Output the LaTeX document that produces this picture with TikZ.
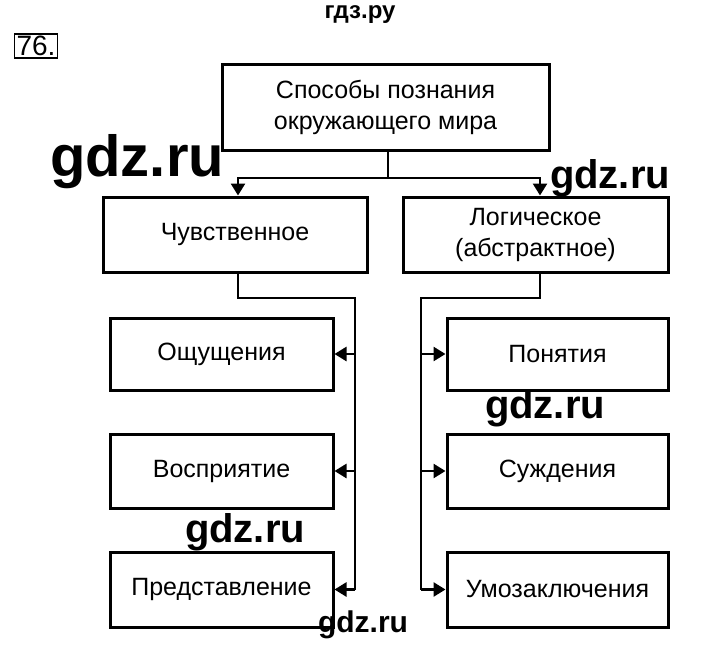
\documentclass[tikz,border=0pt]{standalone}
\usepackage{fontspec}
\setmainfont{Liberation Sans}
\usetikzlibrary{arrows.meta}
\begin{document}
\begin{tikzpicture}[x=1pt,y=-1pt,
 box/.style={draw,line width=3pt,minimum width=#1,inner sep=0pt,align=center,font=\fontsize{25}{31}\selectfont},
 box/.default=223pt,
 ln/.style={line width=2.6pt},
 ar/.style={ln,-{Triangle[length=12pt,width=14pt]}},
 wm/.style={font=\bfseries\fontsize{#1}{#1}\selectfont}]
\useasboundingbox (0,0) rectangle (720,669);
\node[draw,line width=1.5pt,inner sep=2pt,font=\fontsize{28}{28}\selectfont] (n76) at (36,46) {76.};
\node[box=327pt,minimum height=85pt] (top) at (385.5,107.5) {Способы познания\\окружающего мира};
\node[box=264pt,minimum height=75pt] (L) at (235,234.5) {Чувственное};
\node[box=265pt,minimum height=75pt] (R) at (535.5,234.5) {Логическое\\(абстрактное)};
\node[box,minimum height=72pt] (l1) at (221.5,354) {Ощущения};
\node[box,minimum height=74pt] (l2) at (221.5,471) {Восприятие};
\node[box,minimum height=75pt] (l3) at (221.5,589.5) {Представление};
\node[box=221pt,minimum height=72pt] (r1) at (557.5,354) {Понятия};
\node[box=221pt,minimum height=74pt] (r2) at (557.5,471) {Суждения};
\node[box=221pt,minimum height=75pt] (r3) at (557.5,589.5) {Умозаключения};
\coordinate (hub) at (388,178);
\coordinate (la) at (238,178);
\coordinate (ra) at (540,178);
\coordinate (lb) at (238,298);
\coordinate (rb) at (540,298);
\draw[ln] (top.south -| hub) -- (hub);
\draw[ar] (hub) -- (la) -- (la |- L.north);
\draw[ar] (hub) -- (ra) -- (ra |- R.north);
\draw[ln] (lb |- L.south) -- (lb) -- (355,298) -- (355,589.5);
\draw[ar] (355,354) -- (l1.east);
\draw[ar] (355,471) -- (l2.east);
\draw[ar] (355,589.5) -- (l3.east);
\draw[ln] (rb |- R.south) -- (rb) -- (421,298) -- (421,589.5);
\draw[ar] (421,354) -- (r1.west);
\draw[ar] (421,471) -- (r2.west);
\draw[ar] (421,589.5) -- (r3.west);
\node[wm=24] (w0) at (360,15) {гдз.ру};
\node[wm=58] (w1) at (137,162) {gdz.ru};
\node[wm=40] (w2) at (610,178) {gdz.ru};
\node[wm=40] (w3) at (545,408) {gdz.ru};
\node[wm=40] (w4) at (245,532) {gdz.ru};
\node[wm=30] (w5) at (363,625) {gdz.ru};
\end{tikzpicture}
\end{document}
